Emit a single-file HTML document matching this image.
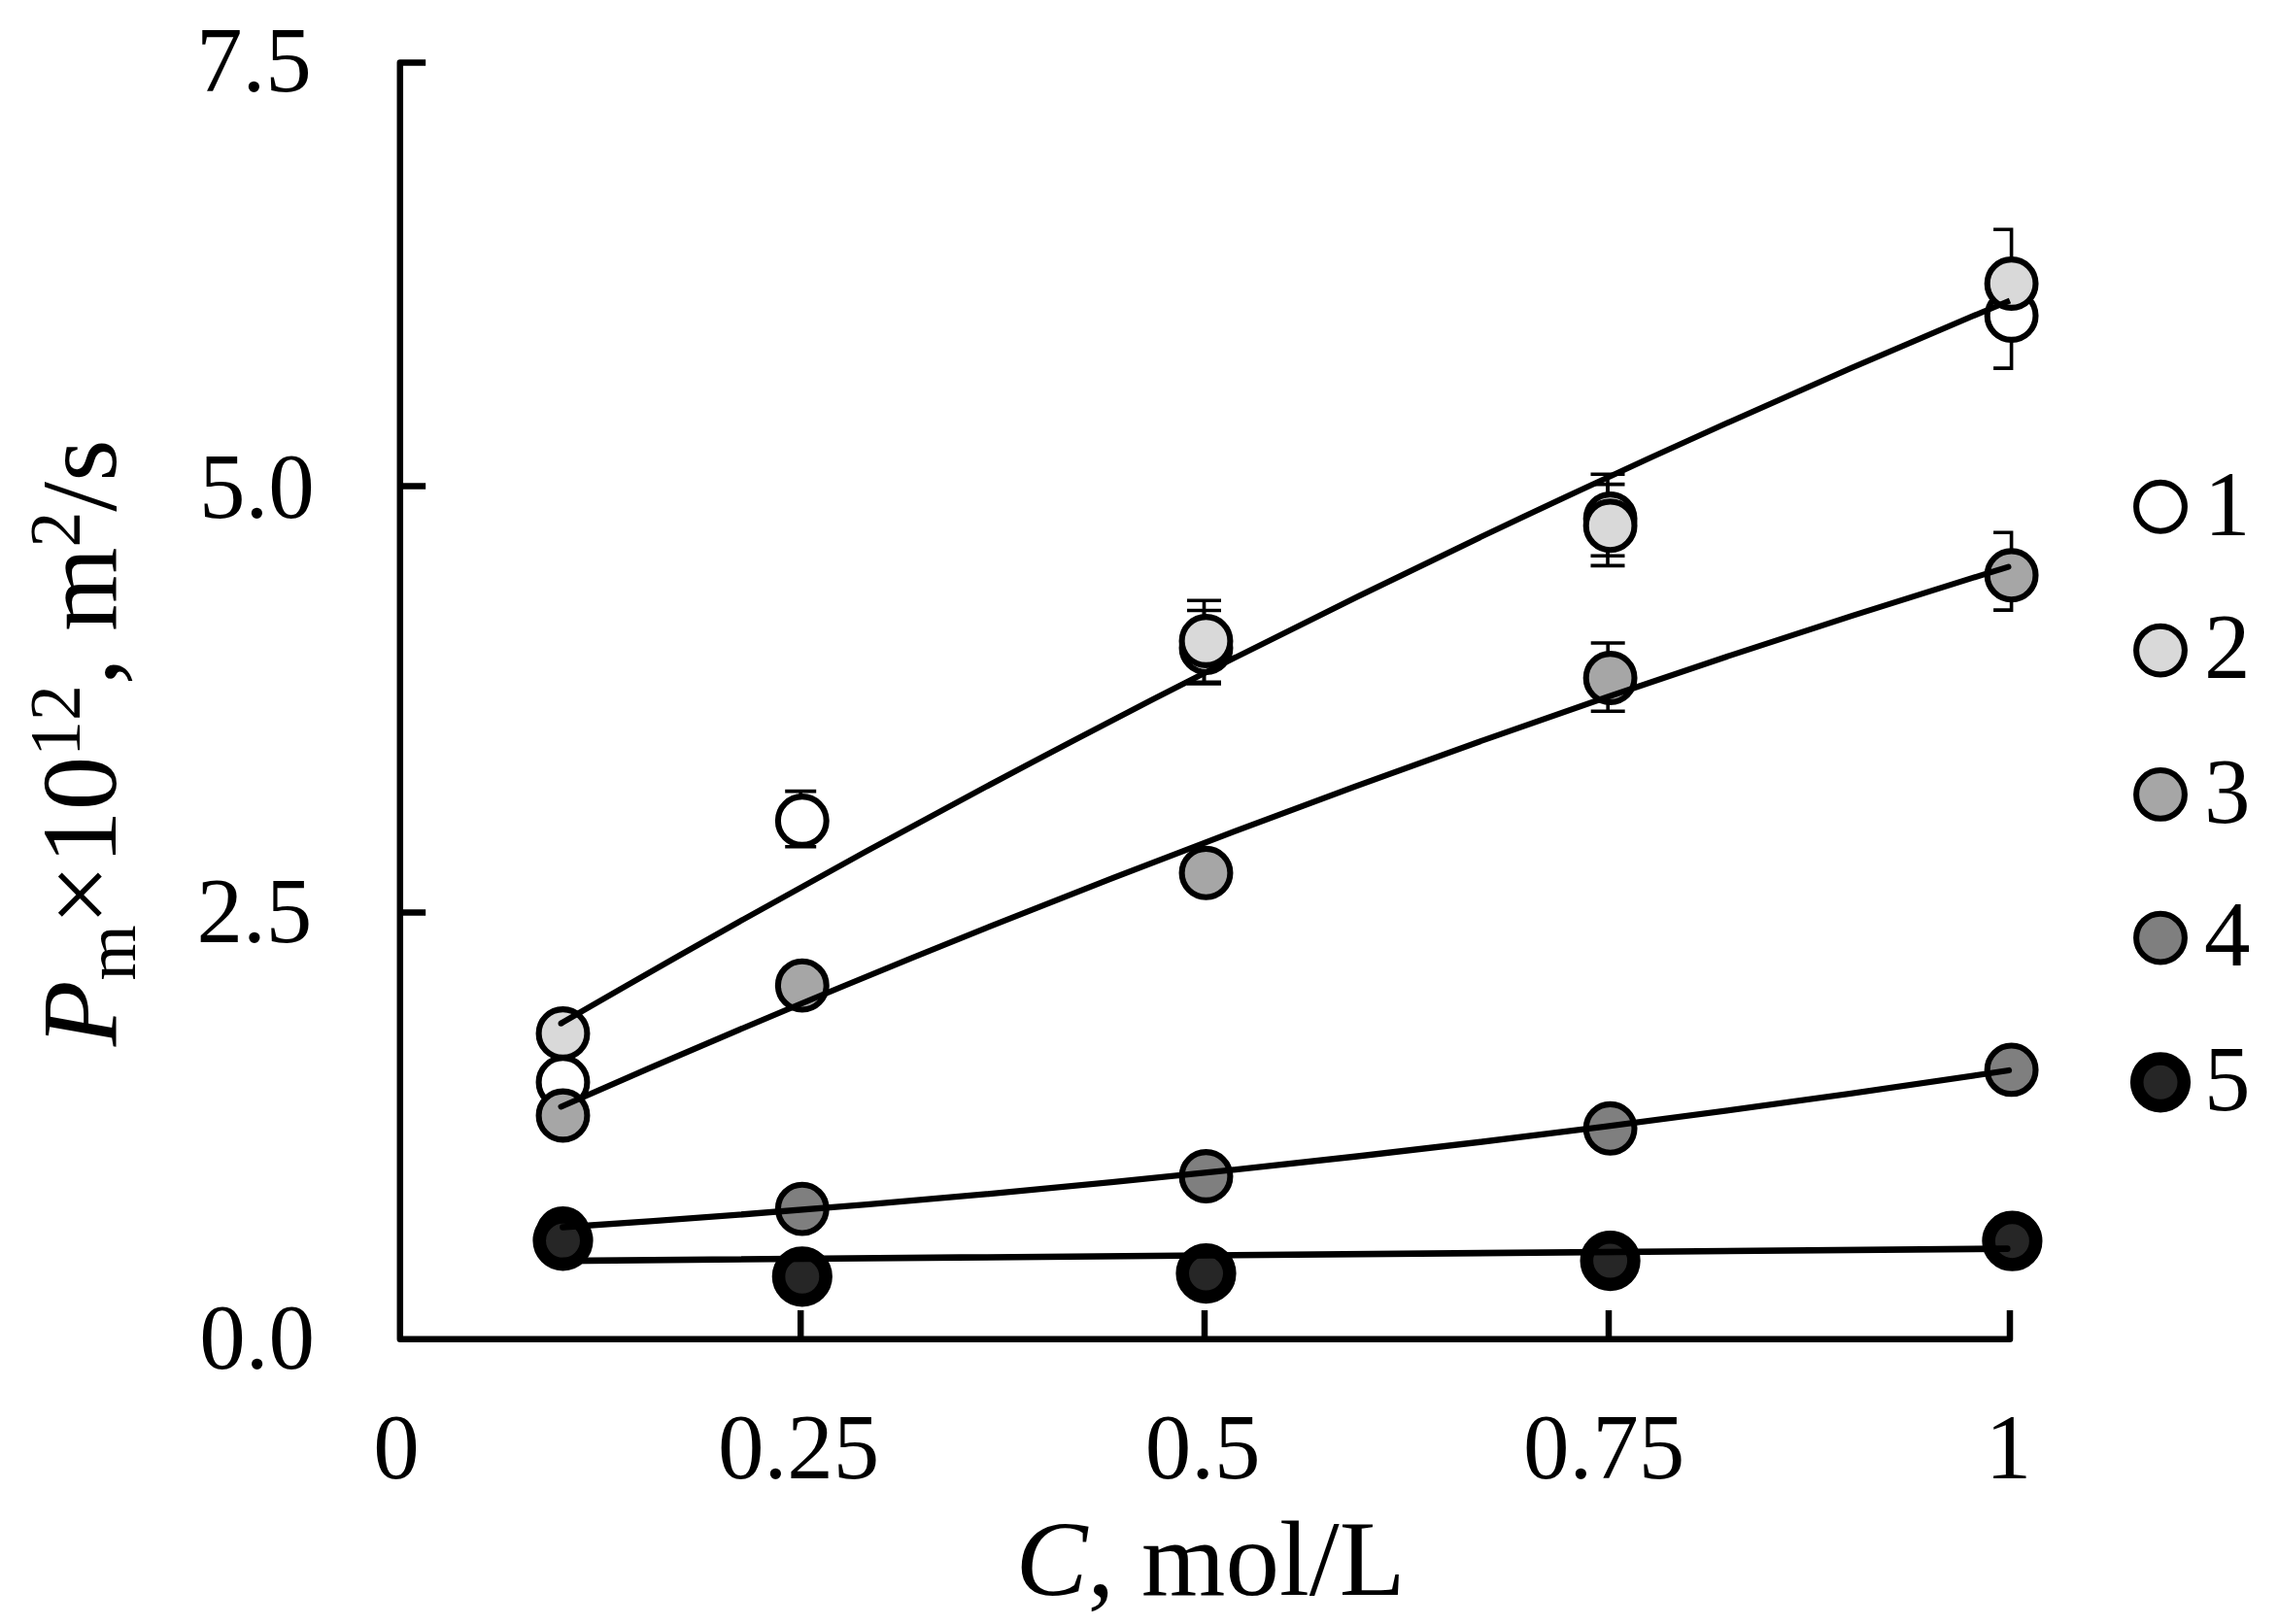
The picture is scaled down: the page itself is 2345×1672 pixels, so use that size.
<!DOCTYPE html>
<html lang="en"><head><meta charset="utf-8"><title>Chart</title>
<style>html,body{margin:0;padding:0;background:#fff}svg{display:block}text{font-family:"Liberation Serif",serif;fill:#000}</style></head><body>
<svg width="2345" height="1672" viewBox="0 0 2345 1672">
<rect width="2345" height="1672" fill="#fff"/>
<g stroke="#000" stroke-width="6.5" fill="none" stroke-linecap="butt" stroke-linejoin="round">
<path d="M438.2,64.6 H411.8 V1378.7 H2069 V1349"/>
<path d="M411.8,500.5 H438.2"/>
<path d="M411.8,939.5 H438.2"/>
<path d="M824.2,1378.7 V1349"/>
<path d="M1240,1378.7 V1349"/>
<path d="M1656,1378.7 V1349"/>
</g>
<g font-size="95" text-anchor="end">
<text x="320.8" y="94">7.5</text>
<text x="323.8" y="533">5.0</text>
<text x="321.3" y="969.6">2.5</text>
<text x="324" y="1408.5">0.0</text>
</g>
<g font-size="95" text-anchor="middle">
<text x="408" y="1521.6">0</text>
<text x="822" y="1521.6">0.25</text>
<text x="1238" y="1521.6">0.5</text>
<text x="1651" y="1521.6">0.75</text>
<text x="2067.5" y="1521.6">1</text>
</g>
<text x="1246" y="1642" font-size="111" text-anchor="middle"><tspan font-style="italic">C</tspan>, mol/L</text>
<text transform="translate(118.8,765) rotate(-90)" font-size="111" text-anchor="middle"><tspan font-style="italic">P</tspan><tspan font-size="73.5" dy="20.6">m</tspan><tspan dy="-20.6">×10</tspan><tspan font-size="73.5" dy="-36.6">12</tspan><tspan dy="36.6">, m</tspan><tspan font-size="73.5" dy="-36.6">2</tspan><tspan dy="36.6">/s</tspan></text>
<g stroke="#000" stroke-width="3.6" fill="none">
<path d="M824.2,814.6 V871.7 M808.2,814.6 H840.2 M808.2,871.7 H840.2"/>
<path d="M1239.5,628.5 V704 M1222.0,628.5 H1257.0 M1222.0,704 H1257.0"/>
<path d="M1239.5,618.3 V702.4 M1222.0,618.3 H1257.0 M1222.0,702.4 H1257.0"/>
<path d="M1655,488.2 V572.2 M1637.5,488.2 H1672.5 M1637.5,572.2 H1672.5"/>
<path d="M1655,498.6 V582.4 M1637.5,498.6 H1672.5 M1637.5,582.4 H1672.5"/>
<path d="M1655.2,662 V732.2 M1637.7,662 H1672.7 M1637.7,732.2 H1672.7"/>
<path d="M2070.6,236.3 V379.1 M2052.1,236.3 H2072.4 M2052.1,379.1 H2072.4"/>
<path d="M2070.6,548.2 V628.1 M2052.1,548.2 H2072.4 M2052.1,628.1 H2072.4"/>
</g>
<g fill="#ffffff" stroke="#000" stroke-width="6.1">
<circle cx="579.5" cy="1114.2" r="24.9"/>
<circle cx="825.8" cy="845" r="24.9"/>
<circle cx="1241.5" cy="667" r="24.9"/>
<circle cx="1657.6" cy="534" r="24.9"/>
<circle cx="2070.6" cy="325" r="24.9"/>
</g>
<g fill="#d9d9d9" stroke="#000" stroke-width="6.1">
<circle cx="579.5" cy="1064" r="24.9"/>
<circle cx="1241.5" cy="660" r="24.9"/>
<circle cx="1657.6" cy="541.3" r="24.9"/>
<circle cx="2070.6" cy="292" r="24.9"/>
</g>
<g fill="#a6a6a6" stroke="#000" stroke-width="6.1">
<circle cx="579.5" cy="1148.5" r="24.9"/>
<circle cx="825.8" cy="1014.6" r="24.9"/>
<circle cx="1241.5" cy="898.8" r="24.9"/>
<circle cx="1657.6" cy="698" r="24.9"/>
<circle cx="2070.6" cy="592.3" r="24.9"/>
</g>
<g fill="#7f7f7f" stroke="#000" stroke-width="6.1">
<circle cx="579.5" cy="1270" r="24.9"/>
<circle cx="825.8" cy="1244.6" r="24.9"/>
<circle cx="1241.5" cy="1211" r="24.9"/>
<circle cx="1657.6" cy="1161.8" r="24.9"/>
<circle cx="2070.6" cy="1101.4" r="24.9"/>
</g>
<g fill="#262626" stroke="#000" stroke-width="13.6">
<circle cx="579.5" cy="1277.3" r="24.3"/>
<circle cx="825.8" cy="1314.3" r="24.3"/>
<circle cx="1241.5" cy="1311.1" r="24.3"/>
<circle cx="1657.6" cy="1298.1" r="24.3"/>
<circle cx="2071.4" cy="1277.7" r="24.3"/>
</g>
<g stroke="#000" fill="none" stroke-linecap="round">
<path stroke-width="6.0" stroke-linecap="butt" d="M577.5,1053.7 Q1323.2,620.5 2069.0,309.4"/>
<circle cx="577.5" cy="1053.7" r="3.0" fill="#000" stroke="none"/>
<path stroke-width="6.0" d="M577.5,1139.4 Q1322.5,811.5 2067.5,583.6"/>
<path stroke-width="6.3" d="M579.3,1263.5 Q1323.7,1214.5 2068.0,1102.0"/>
<path stroke-width="6.6" d="M579.3,1298.1 Q1322.8,1291.3 2066.3,1285.6"/>
</g>
<g stroke="#000" stroke-width="6.1">
<circle cx="2224" cy="521.8" r="24.9" fill="#ffffff" stroke-width="6.1"/>
<circle cx="2224" cy="669.6" r="24.9" fill="#d9d9d9" stroke-width="6.1"/>
<circle cx="2224" cy="817.9" r="24.9" fill="#a6a6a6" stroke-width="6.1"/>
<circle cx="2224" cy="965.6" r="24.9" fill="#7f7f7f" stroke-width="6.1"/>
<circle cx="2224" cy="1114.3" r="24.3" fill="#262626" stroke-width="13.6"/>
</g>
<g font-size="95">
<text x="2269" y="550.5">1</text>
<text x="2269" y="698.3">2</text>
<text x="2269" y="846.6">3</text>
<text x="2269" y="994.3">4</text>
<text x="2269" y="1143.0">5</text>
</g>
</svg></body></html>
